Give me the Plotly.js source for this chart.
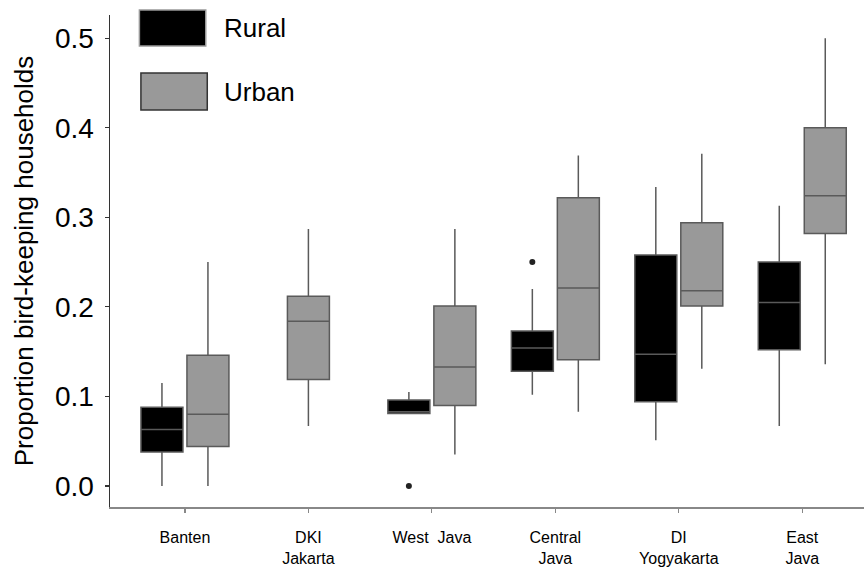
<!DOCTYPE html>
<html><head><meta charset="utf-8">
<script src="https://cdn.plot.ly/plotly-3.0.1.min.js"></script>
<style>html,body{margin:0;padding:0;background:#fff}</style>
</head><body><div id="chart" style="width:864px;height:572px"></div>
<script>
// Categories and tick labels
const categories = ['Banten', 'DKI Jakarta', 'West Java', 'Central Java', 'DI Yogyakarta', 'East Java'];
const tickLabels = ['Banten', 'DKI<br>Jakarta', 'West\u00a0 Java', 'Central<br>Java', 'DI<br>Yogyakarta', 'East<br>Java'];
const seriesNames = ['Rural', 'Urban'];

// Rural box statistics (null = no box)
const ruralLower  = [0.000, null, 0.081, 0.102, 0.051, 0.067];
const ruralQ1     = [0.038, null, 0.081, 0.128, 0.094, 0.152];
const ruralMedian = [0.063, null, 0.083, 0.154, 0.147, 0.205];
const ruralQ3     = [0.088, null, 0.096, 0.173, 0.258, 0.250];
const ruralUpper  = [0.115, null, 0.105, 0.220, 0.334, 0.313];
// Rural outliers
const ruralOutlierRegion = ['West Java', 'Central Java'];
const ruralOutlierValue  = [0.0, 0.25];

// Urban box statistics
const urbanLower  = [0.000, 0.067, 0.035, 0.083, 0.131, 0.136];
const urbanQ1     = [0.044, 0.119, 0.090, 0.141, 0.201, 0.282];
const urbanMedian = [0.080, 0.184, 0.133, 0.221, 0.218, 0.324];
const urbanQ3     = [0.146, 0.212, 0.201, 0.322, 0.294, 0.400];
const urbanUpper  = [0.250, 0.287, 0.287, 0.369, 0.371, 0.500];

const yTicks = [0, 0.1, 0.2, 0.3, 0.4, 0.5];

// indices with both rural and urban (grouped), and urban-only (centered)
const both = [], solo = [];
categories.forEach((c, i) => (ruralQ1[i] === null ? solo : both).push(i));
const pick = (arr, idx) => idx.map(i => arr[i]);

const lineCol = '#5a5a5a';
function boxTrace(name, idx, lower, q1, med, q3, upper, fill, extra) {
  return Object.assign({
    type: 'box', name: name, orientation: 'v',
    x: pick(categories, idx),
    lowerfence: pick(lower, idx), q1: pick(q1, idx), median: pick(med, idx),
    q3: pick(q3, idx), upperfence: pick(upper, idx),
    fillcolor: fill,
    line: {color: lineCol, width: 1.5},
    whiskerwidth: 0,
    boxpoints: false,
    showlegend: false, hoverinfo: 'skip'
  }, extra);
}

const data = [
  boxTrace(seriesNames[0], both, ruralLower, ruralQ1, ruralMedian, ruralQ3, ruralUpper, '#000000', {alignmentgroup: 'g', offsetgroup: 'r'}),
  boxTrace(seriesNames[1], both, urbanLower, urbanQ1, urbanMedian, urbanQ3, urbanUpper, '#999999', {alignmentgroup: 'g', offsetgroup: 'u'}),
  boxTrace(seriesNames[1], solo, urbanLower, urbanQ1, urbanMedian, urbanQ3, urbanUpper, '#999999', {alignmentgroup: 's', offsetgroup: 's', width: 0.34}),
  {
    type: 'scatter', mode: 'markers', x: ruralOutlierRegion, y: ruralOutlierValue,
    alignmentgroup: 'g', offsetgroup: 'r',
    marker: {color: '#222', size: 6}, showlegend: false, hoverinfo: 'skip'
  }
];

const legendFill = ['#000000', '#999999'];
const legendLine = ['#999999', '#333333'];
const legendY = [[0.937, 1.010], [0.807, 0.882]];
const shapes = seriesNames.map((n, i) => ({
  type: 'rect', xref: 'paper', yref: 'paper',
  x0: 0.039 + 0.002 * i, x1: 0.127 + 0.002 * i, y0: legendY[i][0], y1: legendY[i][1],
  fillcolor: legendFill[i], line: {color: legendLine[i], width: 1.5}
}));
const annotations = seriesNames.map((n, i) => ({
  xref: 'paper', yref: 'paper', x: 0.148, y: (legendY[i][0] + legendY[i][1]) / 2,
  xanchor: 'left', yanchor: 'middle', text: n, showarrow: false,
  font: {size: 26, color: '#000'}
}));

const layout = {
  width: 864, height: 572,
  margin: {l: 110, r: 0, t: 15, b: 65},
  paper_bgcolor: '#fff', plot_bgcolor: '#fff',
  boxmode: 'group', boxgap: 0.255, boxgroupgap: 0.087,
  scattermode: 'group', scattergap: 0.255,
  showlegend: false,
  font: {family: 'Liberation Sans, Arial, sans-serif', color: '#000'},
  xaxis: {
    type: 'category', categoryorder: 'array', categoryarray: categories,
    tickvals: categories, ticktext: tickLabels,
    range: [-0.607, 5.5], showline: true, linecolor: '#888', linewidth: 1.5,
    ticks: 'outside', ticklen: 4, tickcolor: '#888', tickwidth: 1.2,
    showgrid: false, zeroline: false, tickfont: {size: 16}, ticklabelstandoff: 11
  },
  yaxis: {
    range: [-0.0235, 0.526], tickvals: yTicks, tickformat: '.1f',
    showline: true, linecolor: '#333', linewidth: 1.5,
    ticks: 'outside', ticklen: 4, tickcolor: '#333', tickwidth: 1.2,
    showgrid: false, zeroline: false, tickfont: {size: 28}, ticklabelstandoff: 5,
    title: {text: 'Proportion bird-keeping households', font: {size: 26}, standoff: 14}
  },
  shapes: shapes, annotations: annotations
};

Plotly.newPlot('chart', data, layout, {staticPlot: true, displayModeBar: false});
</script>
</body></html>
